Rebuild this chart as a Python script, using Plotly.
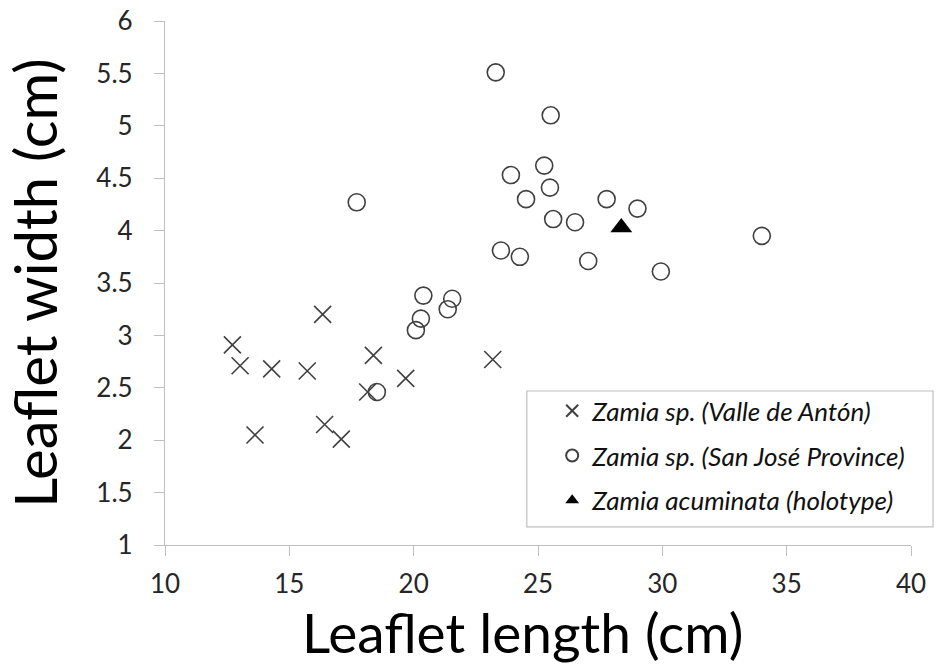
import plotly.graph_objects as go

# Zamia sp. (Valle de Antón) - crosses
valle_len = [12.71, 13.02, 14.29, 15.72, 16.34, 18.38, 19.68, 23.18, 13.62, 16.42, 17.09, 18.15]
valle_wid = [2.91, 2.71, 2.68, 2.66, 3.20, 2.81, 2.59, 2.77, 2.05, 2.15, 2.01, 2.46]

# Zamia sp. (San José Province) - circles
sanjose_len = [23.30, 25.51, 25.25, 23.91, 25.48, 17.71, 24.52, 27.76, 29.00, 25.61, 26.49,
               23.51, 24.27, 27.02, 29.94, 34.00, 20.39, 21.55, 21.37, 20.29, 20.09, 18.52]
sanjose_wid = [5.51, 5.10, 4.62, 4.53, 4.41, 4.27, 4.30, 4.30, 4.21, 4.11, 4.08,
               3.81, 3.75, 3.71, 3.61, 3.95, 3.38, 3.35, 3.25, 3.16, 3.05, 2.46]

# Zamia acuminata (holotype) - triangle
holo_len = [28.35]
holo_wid = [4.03]

names = ["Zamia sp. (Valle de Antón)", "Zamia sp. (San José Province)", "Zamia acuminata (holotype)"]
x_title = "Leaflet length (cm)"
y_title = "Leaflet width (cm)"

x_ticks = [10, 15, 20, 25, 30, 35, 40]
y_ticks = [1, 1.5, 2, 2.5, 3, 3.5, 4, 4.5, 5, 5.5, 6]

FONT = "Lato"
MARK = "#404040"
AXIS = "#bfbfbf"

fig = go.Figure()
fig.add_trace(go.Scatter(
    x=valle_len, y=valle_wid, mode="markers", name="<i>" + names[0] + "</i>", legendgroup="a",
    marker=dict(symbol="x-thin", size=17, line=dict(color=MARK, width=1.6), color=MARK),
))
fig.add_trace(go.Scatter(
    x=sanjose_len, y=sanjose_wid, mode="markers", name="<i>" + names[1] + "</i>", legendgroup="b",
    marker=dict(symbol="circle-open", size=17, line=dict(color=MARK, width=1.6), color=MARK),
))
fig.add_trace(go.Scatter(
    x=holo_len, y=holo_wid, mode="markers", name="<i>" + names[2] + "</i>", legendgroup="c",
    marker=dict(symbol="triangle-up", size=19, color="black"),
))

# legend frame (drawn as a shape so the entries can sit inset like the original)
fig.add_shape(type="rect", xref="paper", yref="paper",
              x0=0.485, x1=1.0295, y0=0.0344, y1=0.2939,
              line=dict(color=AXIS, width=1.2), fillcolor="rgba(0,0,0,0)", layer="below")

# x-axis title (placed as an annotation: in the original it sits slightly left of centre)
fig.add_annotation(text=x_title, xref="paper", yref="paper", x=0.4786, y=0,
                   xanchor="center", yanchor="top", yshift=-53, showarrow=False, borderpad=0,
                   font=dict(family=FONT, size=55, color="black"))

fig.update_layout(
    width=939, height=666,
    margin=dict(l=165, r=28, t=21, b=121),
    paper_bgcolor="white", plot_bgcolor="white",
    font=dict(family=FONT, color="#262626"),
    showlegend=True,
    legend=dict(
        x=0.519, y=0.301, xanchor="left", yanchor="top",
        borderwidth=0, bgcolor="rgba(0,0,0,0)",
        font=dict(family=FONT, size=26, color="#111111"),
        itemsizing="constant", tracegroupgap=8,
    ),
    xaxis=dict(
        range=[10, 40], tickvals=x_ticks, ticktext=[str(v) for v in x_ticks],
        showgrid=False, zeroline=False, showline=True, linecolor=AXIS, linewidth=1.3,
        ticks="outside", ticklen=10, tickcolor=AXIS, tickwidth=1.3,
        ticklabelstandoff=6, automargin=False, ticklabeloverflow="allow",
        tickfont=dict(size=26, color="#262626"),
    ),
    yaxis=dict(
        range=[1, 6], tickvals=y_ticks, ticktext=[f"{v:g}" for v in y_ticks],
        showgrid=False, zeroline=False, showline=True, linecolor=AXIS, linewidth=1.3,
        ticks="outside", ticklen=10, tickcolor=AXIS, tickwidth=1.3,
        ticklabelstandoff=16, automargin=False, ticklabeloverflow="allow",
        tickfont=dict(size=26, color="#262626"),
        title=dict(text=y_title, font=dict(size=58, color="black"), standoff=33),
    ),
)

# remove the default page margin so the 939x666 figure fills the window exactly
fig.write_html("out.html", config={"displayModeBar": False},
               post_script="document.body.style.margin='0';")
